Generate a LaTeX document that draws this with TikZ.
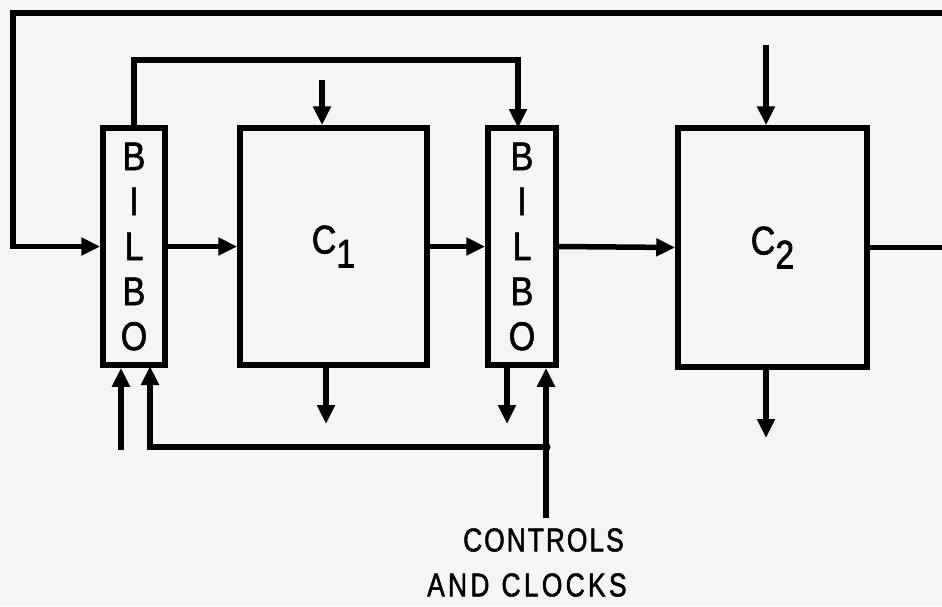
\documentclass[tikz,border=0pt]{standalone}
\usepackage{fontspec}
\newfontfamily\lbl[FakeStretch=0.85,FakeBold=1.5]{Liberation Sans}
\newfontfamily\lblsp[FakeStretch=0.8,FakeBold=1.5,LetterSpace=6]{Liberation Sans}
\newfontfamily\lblspw[FakeStretch=0.8,FakeBold=1.5,LetterSpace=10]{Liberation Sans}
\usetikzlibrary{arrows.meta}
\begin{document}
\begin{tikzpicture}[x=1pt,y=-1pt,
  wire/.style={line width=5.5pt},
  arr/.style={wire,-{Triangle[length=19pt,width=17pt]}},
  box/.style={draw,line width=5.5pt,rectangle,inner sep=0pt},
  bilbobox/.style={box,minimum width=62pt,minimum height=237pt,align=center,
     font=\lbl\fontsize{40}{45}\selectfont},
  cbox/.style={box,font=\lbl\fontsize{40}{44}\selectfont},
  caption/.style={inner sep=0pt}]
\fill[gray!8] (0,0) rectangle (942,606);
\useasboundingbox (0,0) rectangle (942,606);
% blocks
\node[bilbobox] (b1) at (134,246.5) {\raisebox{-4pt}{\parbox{40pt}{\centering B\\I\\L\\B\\O}}};
\node[bilbobox,minimum width=68pt] (b2) at (522,246.5) {\raisebox{-4pt}{\parbox{40pt}{\centering B\\I\\L\\B\\O}}};
\node[cbox,minimum width=187pt,minimum height=237pt] (c1) at (333.5,246.5) {C\raisebox{-14pt}{1}};
\node[cbox,minimum width=189pt,minimum height=239pt] (c2) at (772.5,247.5) {C\raisebox{-14pt}{2}};
% coordinates
\coordinate (loopR) at (942,13);
\coordinate (outR) at (942,250);
\coordinate (c1in) at (322,80);
\coordinate (c1out) at (326,424);
\coordinate (c2in) at (766,45);
\coordinate (c2out) at (766,438);
\coordinate (b2out) at (507,424);
\coordinate (b1inA) at (121,450);
\coordinate (junc) at (546,447);
\coordinate (ctlEnd) at (546,518);
% connectors
\draw[arr] (loopR) -- (13,13) |- (b1.west);
\draw[wire] (c2.east) -- (c2.east -| outR);
\draw[arr] (b1.east) -- (c1.west);
\draw[arr] (c1.east) -- (b2.west);
\draw[arr] (b2.east) -- (c2.west);
\draw[arr] (b1.north) -- (b1.north |- 0,60) -| (518,128);
\draw[arr] (c1in) -- (c1.north -| c1in);
\draw[arr] (c1.south -| c1out) -- (c1out);
\draw[arr] (c2in) -- (c2.north -| c2in);
\draw[arr] (c2.south -| c2out) -- (c2out);
\draw[arr] (b2.south -| b2out) -- (b2out);
\draw[arr] (b1inA) -- (b1.south -| b1inA);
\draw[arr] (junc) -- (150,447) -- (150,366);
\draw[arr] (ctlEnd) -- (junc) -- (b2.south -| junc);
\fill (junc) circle (4.5pt);
% labels
\node[caption,anchor=west,font=\lblsp\fontsize{33}{36}\selectfont] (t1) at (463,540) {CONTROLS};
\node[caption,anchor=west,font=\lblspw\fontsize{33}{36}\selectfont] (t2) at (427,585) {AND\hspace{12pt}CLOCKS};
\end{tikzpicture}
\end{document}
